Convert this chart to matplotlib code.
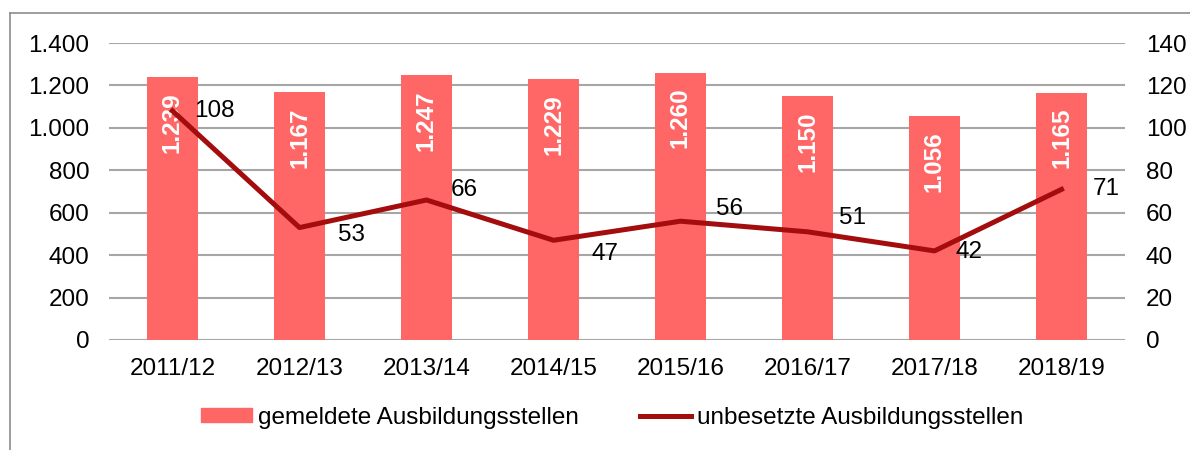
import matplotlib.pyplot as plt
from matplotlib.lines import Line2D

plt.rcParams['font.family'] = ['Liberation Sans', 'DejaVu Sans']

# Daten
jahre = ['2011/12', '2012/13', '2013/14', '2014/15', '2015/16', '2016/17', '2017/18', '2018/19']
gemeldet = [1239, 1167, 1247, 1229, 1260, 1150, 1056, 1165]
unbesetzt = [108, 53, 66, 47, 56, 51, 42, 71]
gemeldet_labels = ['1.239', '1.167', '1.247', '1.229', '1.260', '1.150', '1.056', '1.165']
links_ticks = ['0', '200', '400', '600', '800', '1.000', '1.200', '1.400']

# Offsets der Linienbeschriftungen in Pixeln (x, y)
label_offsets = [(42, 0), (52, -7), (38, 10), (51, -14), (49, 12), (45, 14), (35, -1), (45, 0)]

bar_color = '#FF6666'
line_color = '#A30D0D'
grid_color = '#A6A6A6'
fs = 17.5

fig = plt.figure(figsize=(11.9, 4.5), dpi=100)
ax = fig.add_axes([109 / 1190, 110 / 450, 1016 / 1190, 297 / 450])
ax2 = ax.twinx()

x = range(len(jahre))
ax.bar(x, gemeldet, width=0.4, color=bar_color, zorder=2)
ax.set_ylim(0, 1400)
ax.set_yticks(range(0, 1401, 200))
ax.set_yticklabels(links_ticks)
ax.set_xlim(-0.5, len(jahre) - 0.5)
ax.set_xticks(list(x))
ax.set_xticklabels(jahre)
ax.grid(axis='y', color=grid_color, linewidth=1.5, zorder=0)
ax.set_axisbelow(True)

for i, v in enumerate(gemeldet):
    ax.annotate(gemeldet_labels[i], (i, v), xytext=(0, -15), textcoords='offset pixels',
                rotation=90, ha='center', va='top', color='white', fontweight='bold', fontsize=fs, zorder=3)

ax2.plot(x, unbesetzt, color=line_color, linewidth=3.6, zorder=4)
ax2.set_ylim(0, 140)
ax2.set_yticks(range(0, 141, 20))
for i, v in enumerate(unbesetzt):
    dx, dy = label_offsets[i]
    ax2.annotate(str(v), (i, v), xytext=(dx, dy), textcoords='offset pixels',
                 ha='center', va='center', fontsize=fs, color='black')

for a in (ax, ax2):
    for s in a.spines.values():
        s.set_visible(False)
    a.tick_params(length=0, labelsize=fs, colors='black')
ax.tick_params(axis='x', pad=13)
ax.tick_params(axis='y', pad=14)
ax2.tick_params(axis='y', pad=15)

handles = [plt.Rectangle((0, 0), 1, 1, color=bar_color),
           Line2D([0], [0], color=line_color, linewidth=3.6)]
fig.legend(handles, ['gemeldete Ausbildungsstellen', 'unbesetzte Ausbildungsstellen'],
           loc='center', bbox_to_anchor=(612 / 1190, 1 - 418 / 450), ncol=2, frameon=False,
           fontsize=fs, handlelength=2.1, handleheight=0.5, handletextpad=0.25, columnspacing=2.5)

# Rahmen
fig.add_artist(Line2D([10 / 1190, 10 / 1190], [0, 1 - 13 / 450], color='#8C8C8C', linewidth=1.2))
fig.add_artist(Line2D([10 / 1190, 1], [1 - 13 / 450, 1 - 13 / 450], color='#8C8C8C', linewidth=1.2))

fig.savefig('out.png', dpi=100)
